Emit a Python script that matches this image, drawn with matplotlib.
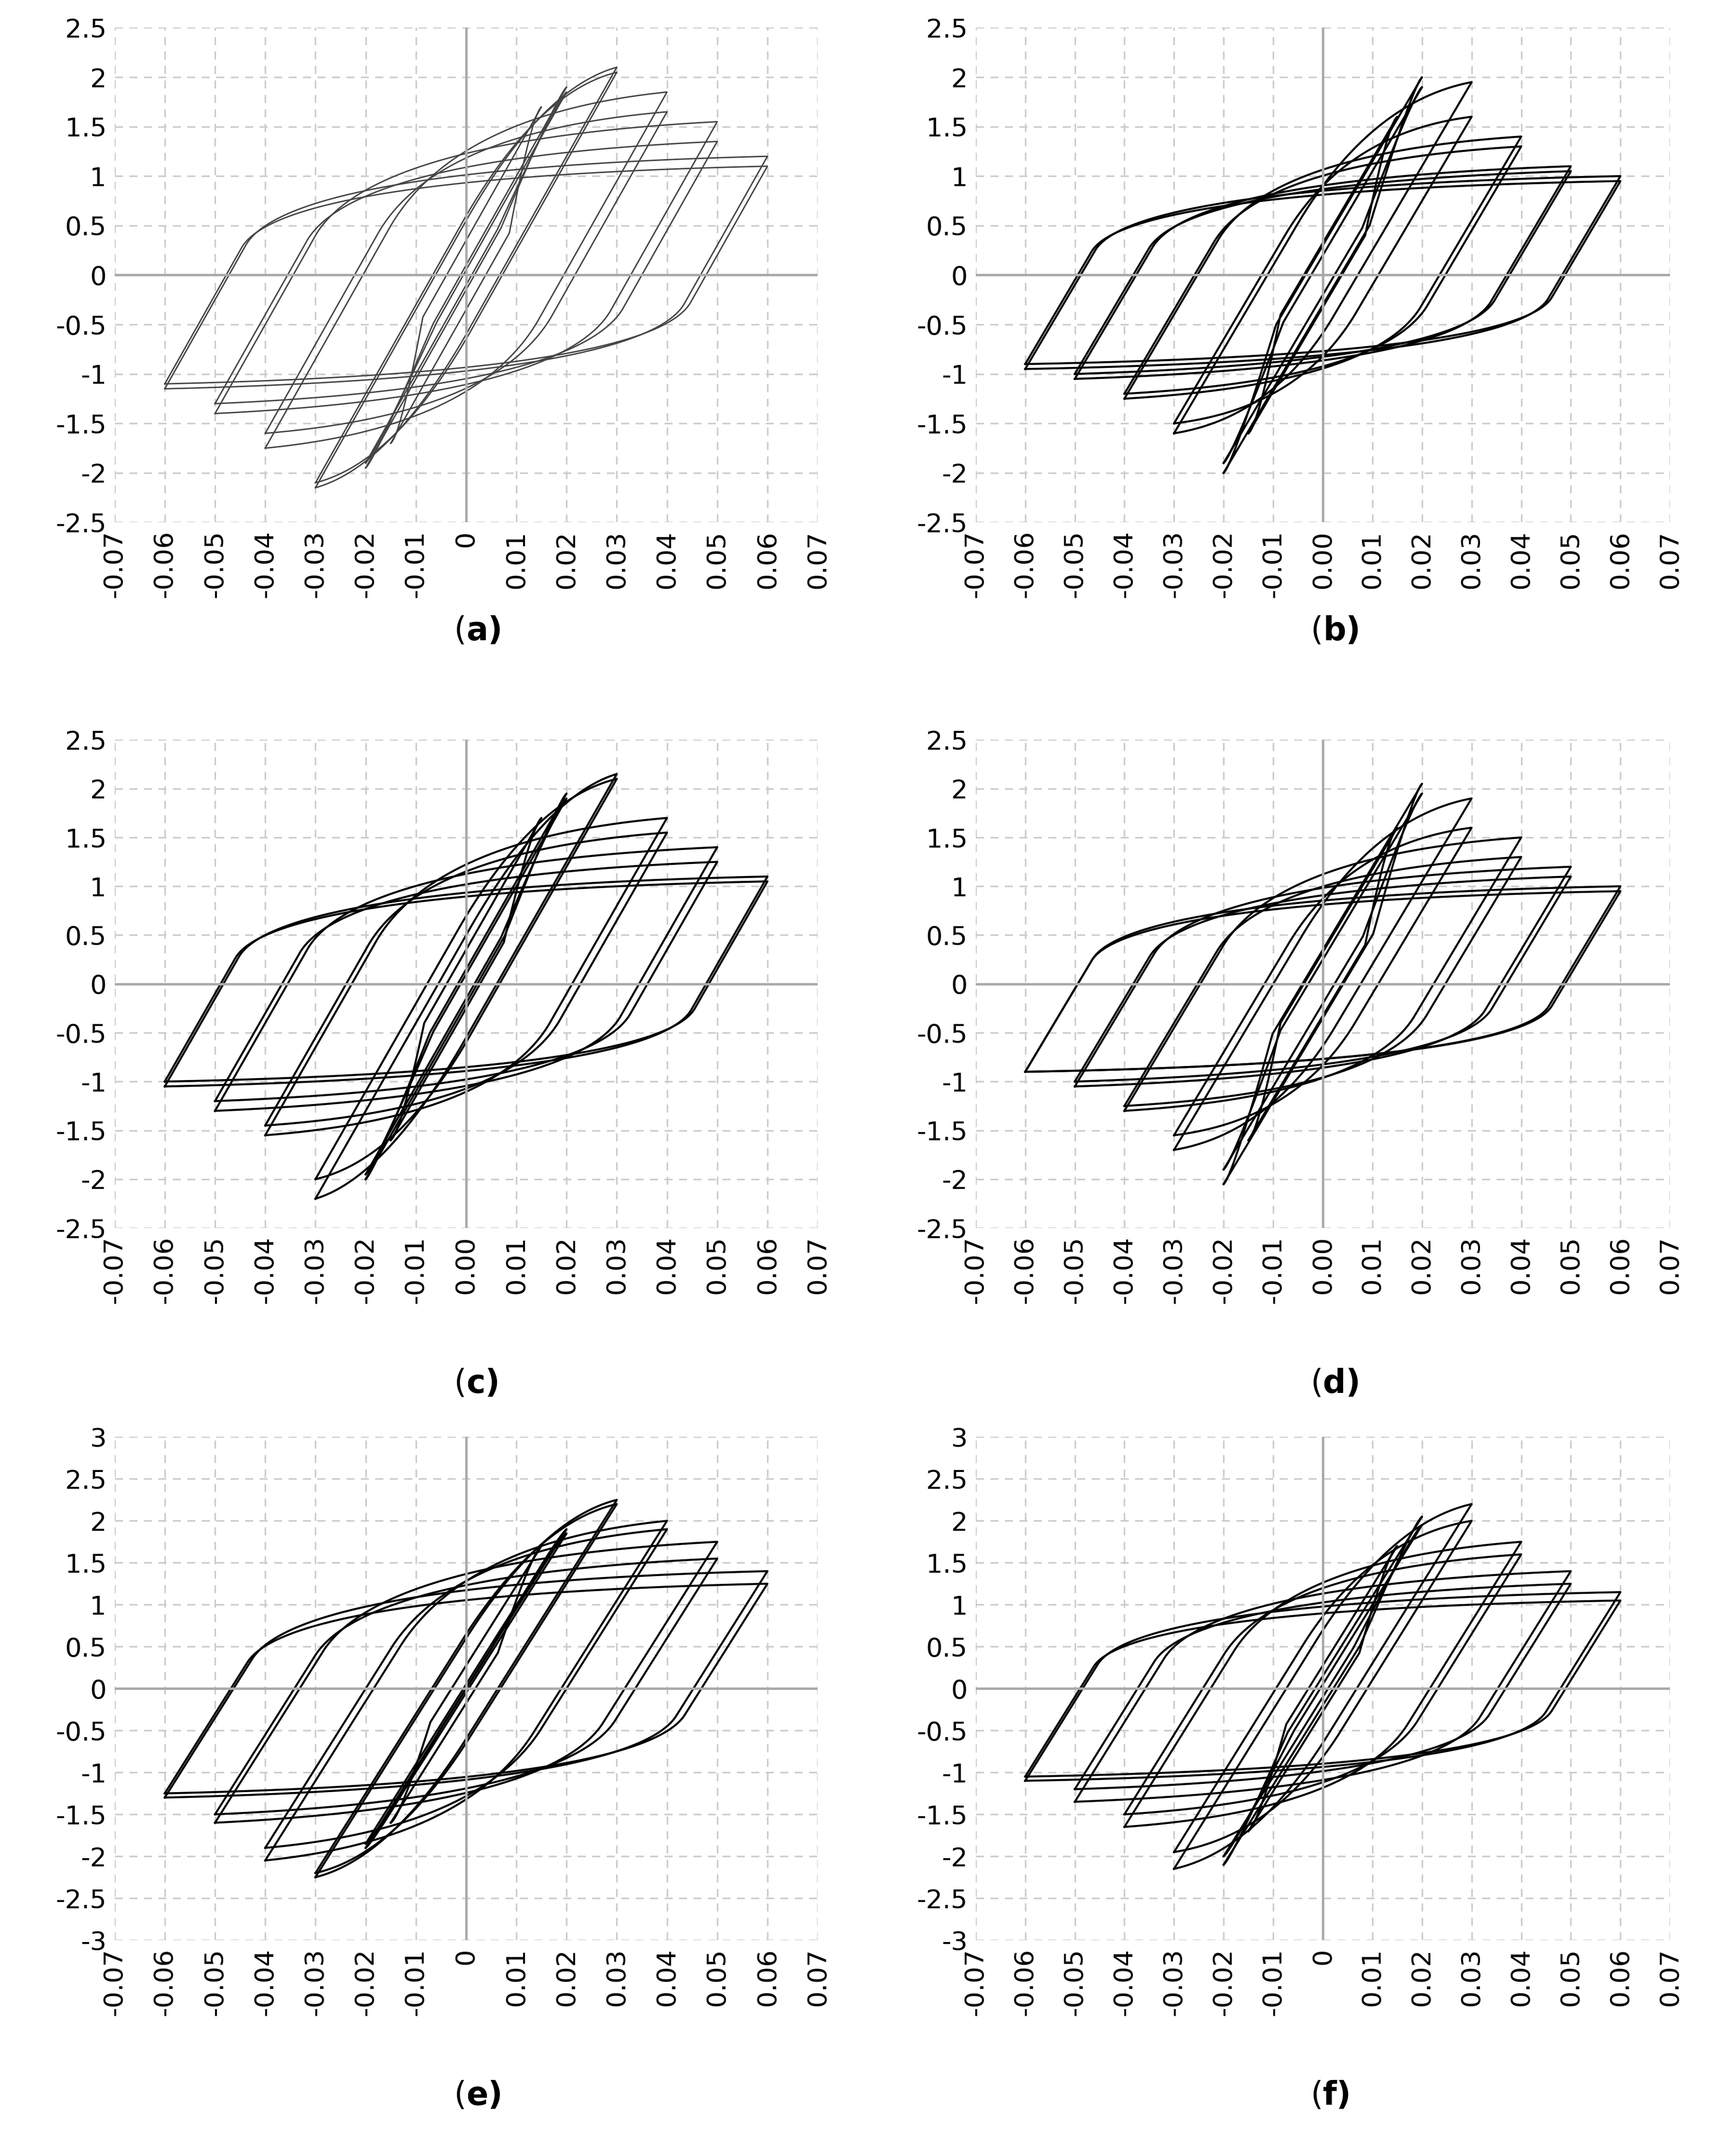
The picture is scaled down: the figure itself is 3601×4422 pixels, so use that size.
import numpy as np
import matplotlib.pyplot as plt

# drift amplitude of each cycle (same protocol for every panel)
amps = [0.015, 0.02, 0.02, 0.03, 0.03, 0.04, 0.04, 0.05, 0.05, 0.06, 0.06]
# force level of the knee corner on the reloading branch (fraction of end force)
knee_frac = [0.95, 0.95, 0.95, 0.9, 0.9, 0.88, 0.88, 0.88, 0.88, 0.9, 0.9]

# force reached at +amp and |force| at -amp
fpos_a = [1.7, 1.9, 1.85, 2.1, 2.05, 1.85, 1.65, 1.55, 1.35, 1.2, 1.1]
fneg_a = [1.7, 1.95, 1.9, 2.15, 2.1, 1.75, 1.6, 1.4, 1.3, 1.15, 1.1]
fpos_b = [1.6, 2.0, 1.9, 1.95, 1.6, 1.4, 1.3, 1.1, 1.05, 1.0, 0.95]
fneg_b = [1.6, 2.0, 1.9, 1.6, 1.5, 1.25, 1.2, 1.05, 1.0, 0.95, 0.9]
fpos_c = [1.7, 1.95, 1.9, 2.15, 2.1, 1.7, 1.55, 1.4, 1.25, 1.1, 1.05]
fneg_c = [1.6, 2.0, 1.95, 2.2, 2.0, 1.55, 1.45, 1.3, 1.2, 1.05, 1.0]
fpos_d = [1.6, 2.05, 1.95, 1.9, 1.6, 1.5, 1.3, 1.2, 1.1, 1.0, 0.95]
fneg_d = [1.6, 2.05, 1.9, 1.7, 1.55, 1.3, 1.25, 1.05, 1.0, 0.9, 0.9]
fpos_e = [1.7, 1.9, 1.85, 2.25, 2.2, 2.0, 1.9, 1.75, 1.55, 1.4, 1.25]
fneg_e = [1.6, 1.9, 1.85, 2.25, 2.2, 2.05, 1.9, 1.6, 1.5, 1.3, 1.25]
fpos_f = [1.7, 2.05, 1.95, 2.2, 2.0, 1.75, 1.6, 1.4, 1.25, 1.15, 1.05]
fneg_f = [1.7, 2.1, 2.0, 2.15, 1.95, 1.65, 1.5, 1.35, 1.2, 1.1, 1.05]

stiff = {'a': 90, 'b': 85, 'c': 90, 'd': 85, 'e': 95, 'f': 95}
panels = [
    ('a', fpos_a, fneg_a, 2.5, '0'),
    ('b', fpos_b, fneg_b, 2.5, '0.00'),
    ('c', fpos_c, fneg_c, 2.5, '0.00'),
    ('d', fpos_d, fneg_d, 2.5, '0.00'),
    ('e', fpos_e, fneg_e, 3.0, '0'),
    ('f', fpos_f, fneg_f, 3.0, '0'),
]

xticks = np.round(np.arange(-0.07, 0.0701, 0.01), 2)


def branch(x0, f0, k, fc, x1, f1):
    """straight elastic part from (x0,f0), then a rounded knee into (x1,f1)"""
    fs = 0.25 * f1
    xs_end = x0 + (fs - f0) / k
    xc = x0 + (fc - f0) / k
    xc = min(xc, x1 - 0.002)
    xs = np.linspace(x0, xs_end, 10)
    ys = f0 + k * (xs - x0)
    t = np.linspace(0, 1, 80)
    bx = (1 - t)**2 * xs_end + 2 * (1 - t) * t * xc + t**2 * x1
    by = (1 - t)**2 * fs + 2 * (1 - t) * t * fc + t**2 * f1
    return np.r_[xs, bx], np.r_[ys, by]


fig = plt.figure(figsize=(3601 / 300, 4422 / 300), dpi=300)
boxes = [(0.066, 0.755, 0.405, 0.232), (0.562, 0.755, 0.40, 0.232),
         (0.066, 0.424, 0.405, 0.229), (0.562, 0.424, 0.40, 0.229),
         (0.066, 0.090, 0.405, 0.236), (0.562, 0.090, 0.40, 0.236)]
label_y = [0.704, 0.704, 0.351, 0.351, 0.017, 0.017]

for (name, fp, fn, ylim, zero_lbl), box, ly in zip(panels, boxes, label_y):
    ax = fig.add_axes(box)
    k = stiff[name]
    col = '#444444' if name == 'a' else 'black'
    lw = 0.7 if name == 'a' else 1.0
    for d, p, n, kq in zip(amps, fp, fn, knee_frac):
        # reloading from -d to +d
        x1, y1 = branch(-d, -n, k, kq * p, d, p)
        # unloading from +d to -d (mirror)
        x2, y2 = branch(-d, -p, k, kq * n, d, n)
        ax.plot(np.r_[x1, -x2], np.r_[y1, -y2], color=col, lw=lw)
    ax.set_xlim(-0.07, 0.07)
    ax.set_ylim(-ylim, ylim)
    ax.set_xticks(xticks)
    lbls = [f'{v:.2f}' for v in xticks]
    lbls[7] = zero_lbl
    ax.set_xticklabels(lbls, rotation=90, fontsize=13)
    yt = np.arange(-ylim, ylim + 0.01, 0.5)
    ax.set_yticks(yt)
    ax.set_yticklabels([f'{v:g}' for v in yt], fontsize=13)
    ax.grid(True, ls=(0, (5, 4)), color='#cccccc', lw=0.8)
    ax.axhline(0, color='#aaaaaa', lw=1.2)
    ax.axvline(0, color='#aaaaaa', lw=1.2)
    for s in ax.spines.values():
        s.set_visible(False)
    ax.tick_params(length=0, pad=4)
    fig.text(box[0] + box[2] / 2, ly, '(', ha='right', va='center', fontsize=16)
    fig.text(box[0] + box[2] / 2, ly, name + ')', ha='left', va='center',
             fontsize=16, fontweight='bold')

fig.savefig('out.png', dpi=300)
